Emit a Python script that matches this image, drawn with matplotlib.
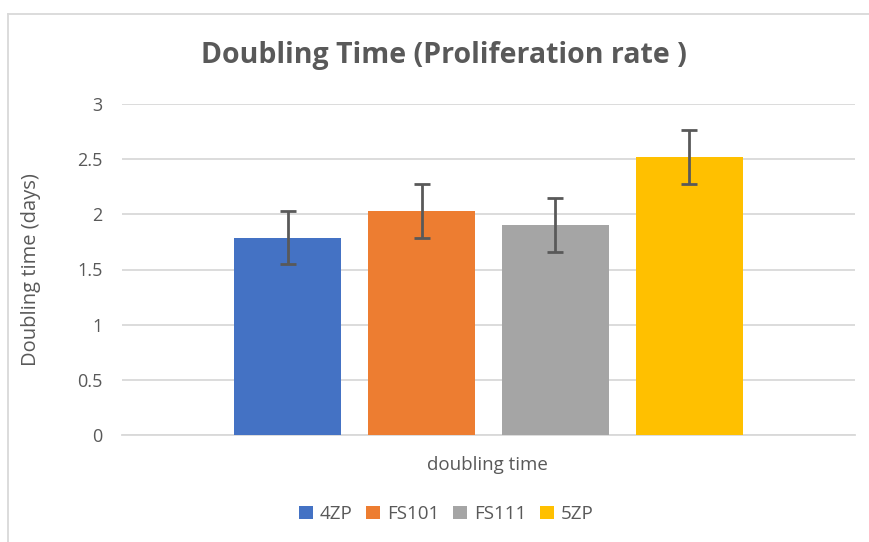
import matplotlib
matplotlib.use("Agg")
import matplotlib.pyplot as plt
from matplotlib.lines import Line2D
from matplotlib.patches import Patch

categories = ["4ZP", "FS101", "FS111", "5ZP"]
values = [1.79, 2.03, 1.90, 2.52]
errors = [0.24, 0.245, 0.245, 0.245]
colors = ["#4472C4", "#ED7D31", "#A5A5A5", "#FFC000"]
yticks = [0, 0.5, 1, 1.5, 2, 2.5, 3]
ytick_labels = ["0", "0.5", "1", "1.5", "2", "2.5", "3"]

plt.rcParams['font.family'] = ['Open Sans', 'DejaVu Sans']
txt = "#595959"

fig = plt.figure(figsize=(8.70, 5.42), dpi=100)
ax = fig.add_axes([122/870, 1-435/542, (855-122)/870, (435-104)/542])

x = list(range(len(categories)))
ax.bar(x, values, width=0.8, color=colors, zorder=3)
ax.errorbar(x, values, yerr=errors, fmt="none", ecolor="#595959",
            elinewidth=2, capsize=6, capthick=2, zorder=4)

ax.set_xlim(1.5 - 2.74, 1.5 + 2.74)
ax.set_ylim(0, 3)
ax.set_yticks(yticks)
ax.set_yticklabels(ytick_labels, fontsize=13, color=txt)
ax.set_xticks([])
ax.tick_params(axis="y", length=0, pad=14)
ax.yaxis.grid(True, color="#D9D9D9", linewidth=1.3, zorder=0)
ax.set_axisbelow(True)
for s in ["top", "right", "left"]:
    ax.spines[s].set_visible(False)
ax.spines["bottom"].set_color("#D9D9D9")
ax.spines["bottom"].set_linewidth(1.3)

ax.set_ylabel("Doubling time (days)", fontsize=14.5, color=txt)
ax.yaxis.set_label_coords(-0.11, 0.5)
fig.text(487/870, 1-465/542, "doubling time", ha="center", va="center",
         fontsize=13.5, color=txt)
fig.text(444/870, 1-55/542, "Doubling Time (Proliferation rate )", ha="center",
         va="center", fontsize=20.5, fontweight="bold", color=txt)

handles = [Patch(facecolor=c, edgecolor="none") for c in colors]
fig.legend(handles, categories, loc="center", bbox_to_anchor=(446/870, 1-514/542),
           ncol=4, frameon=False, fontsize=13.5, handlelength=0.75, handleheight=0.75,
           handletextpad=0.35, columnspacing=0.75, labelcolor=txt)

# chart border lines (top and left)
fig.add_artist(Line2D([8/870, 1], [1-14/542, 1-14/542], color="#D9D9D9", linewidth=1.3))
fig.add_artist(Line2D([8/870, 8/870], [0, 1-14/542], color="#D9D9D9", linewidth=1.3))

fig.savefig("out.png", dpi=100)
